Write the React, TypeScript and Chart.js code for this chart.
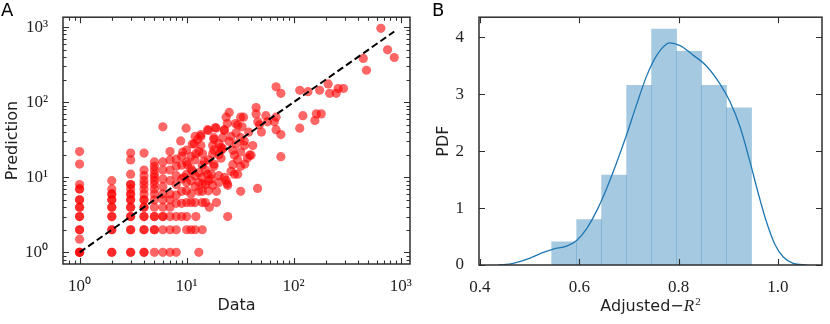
import React, { useEffect, useRef } from 'react';
import { Chart, registerables } from 'chart.js';

Chart.register(...registerables);

// ---------------- Panel A data (Data value -> Prediction) ----------------
// Low-count observations sit on integer Data values
const pred_at_data1 = [1, 1, 1, 1.5, 2, 2, 3, 3, 4, 4, 5, 5, 7, 7, 8, 15, 22];
const pred_at_data2 = [1, 1, 2, 2, 3, 3, 4, 4, 5, 5, 6, 6, 7, 9];
const pred_at_data3 = [1, 1, 2, 2, 3, 3, 4, 4, 5, 5, 6, 6, 7, 8, 8, 11, 17, 21];
const pred_at_data4 = [1, 1, 2, 2, 3, 3, 4, 4, 5, 5, 6, 7, 8, 9, 10.5, 12.5, 21];
const pred_at_data5 = [1, 2, 2, 3, 3, 4, 5, 6, 7, 8, 9, 10, 11, 12.5, 14, 16];
const pred_at_data6 = [1, 2, 3, 3, 4, 5, 6, 7.5, 9.5, 12.5, 16];
const pred_at_data7 = [1, 2, 3, 4, 5, 6, 9, 12.5, 17, 22];
const pred_at_data8 = [1, 2, 3, 4.5, 5.8, 8, 10.5, 14, 17.5];
const pred_at_data9 = [3, 4.5, 6.5, 9.5, 14.5, 19];
const pred_at_data10 = [2, 3, 4.6, 6.6, 8.5, 11, 16, 23];
const pred_at_data11 = [2, 4.6, 6, 9, 13, 19];
const pred_at_data12 = [2, 4.6, 7.5, 10.5, 17];
const pred_at_data13 = [1, 6.5, 8.5, 11.5, 22];
const pred_at_data14 = [2, 4.6, 6.5, 10, 14.5];
const integerColumns: [number, number[]][] = [
  [1, pred_at_data1], [2, pred_at_data2], [3, pred_at_data3], [4, pred_at_data4],
  [5, pred_at_data5], [6, pred_at_data6], [7, pred_at_data7], [8, pred_at_data8],
  [9, pred_at_data9], [10, pred_at_data10], [11, pred_at_data11], [12, pred_at_data12],
  [13, pred_at_data13], [14, pred_at_data14],
];

// Remaining observations (paired by index)
const spread_data = [
  6, 9.9, 8.8, 13.6, 15.7, 18.8, 22.5, 18, 21.7, 11.8, 13.6, 17.5, 21, 23.4, 25, 30, 32, 33, 26, 29,
  32, 34.6, 34.6, 41.5, 44.6, 44.6, 46.3, 55, 57, 68.5, 68.5, 76, 68.5, 76, 114, 122, 114, 76, 136, 163,
  158, 181, 175, 210, 217, 250, 260, 292, 653, 754, 871, 447, 479, 9.2, 12.2, 14.1, 14.6, 17.5, 21, 21,
  27, 32, 38.7, 27, 30, 32, 46, 15.7, 16.9, 23.4, 24.2, 17.5, 14.1, 10.2, 11.3, 9.5, 24.2, 24, 22.5, 28,
  32, 37, 40, 28, 29, 21.7, 18, 16.3, 12.2, 11.3, 12, 18, 15, 20, 19, 16, 26, 35, 30, 20,
  25, 38, 24, 50, 34, 28.6, 22.5, 18.6, 16, 13.6, 12.7, 48, 66, 15, 15, 16, 16, 17, 18, 18,
  20, 19, 20,
];
const spread_pred = [
  47, 45, 30.5, 35, 43, 45, 43, 33.6, 33.6, 27.7, 26.4, 26.4, 25, 63, 73, 49.7, 63, 47, 35, 39,
  33.6, 30.5, 26.4, 26.4, 84.7, 69.8, 54.7, 66, 54.7, 63, 43, 37, 160, 131, 144, 66, 45, 18.8, 138, 69.8,
  57, 69.8, 144, 175, 131, 131, 152, 152, 960, 497, 393, 382, 266, 21.7, 20.6, 20.6, 16.2, 20.6, 17.9, 22.8,
  22.8, 21.7, 19.7, 14.7, 11, 6.5, 7.1, 11, 9.5, 9.1, 7.8, 7.8, 8.2, 14.7, 12.1, 10, 3, 8.2, 10, 11,
  14, 18, 19.7, 19.7, 27.7, 24, 14, 4, 3, 27.7, 35, 32, 12.5, 10.5, 6.5, 17, 12, 15, 17, 28,
  30, 40, 52, 40, 63, 52, 42, 46, 42, 37, 32, 50, 55, 4.6, 8, 6.6, 9, 11, 15, 23,
  8.5, 4.6, 20,
];

// y = x reference line end points
const identity_line = [1, 871];

// ---------------- Panel B data ----------------
const hist_centers = [0.5695, 0.6199, 0.6702, 0.7206, 0.7709, 0.8213, 0.8716, 0.922];
const hist_density = [0.407, 0.798, 1.579, 3.152, 4.14, 3.749, 3.152, 2.76];
const kde_x = [
  0.437, 0.467, 0.5007, 0.5275, 0.5477, 0.5746, 0.5947, 0.615, 0.635, 0.655, 0.675, 0.6955, 0.7156,
  0.7358, 0.756, 0.776, 0.7827, 0.803, 0.83, 0.8566, 0.8834, 0.9035, 0.9237, 0.944, 0.9605, 0.9774,
  0.9942, 1.011, 1.031, 1.058,
];
const kde_y = [
  0, 0.03, 0.12, 0.22, 0.28, 0.33, 0.43, 0.64, 0.95, 1.34, 1.79, 2.29, 2.82, 3.32, 3.68, 3.88, 3.9,
  3.85, 3.68, 3.49, 3.18, 2.87, 2.43, 1.81, 1.26, 0.75, 0.36, 0.14, 0.03, 0,
];
const b_xticks = [0.4, 0.6, 0.8, 1.0];
const b_yticks = [0, 1, 2, 3, 4];

// ---------------- styling ----------------
const FRAME = '#2e2e2e';
const TEXT = '#1f1f1f';
const SERIF = 'Liberation Serif';
const TICK_FONT = { family: SERIF, size: 17 };
const TITLE_FONT = { family: 'DejaVu Sans', size: 16 };
const SUP = ['⁰', '¹', '²', '³', '⁴', '⁵', '⁶', '⁷', '⁸', '⁹'];

type TickDef = { v: number; major: boolean };

function logTicks(min: number, max: number): TickDef[] {
  const out: TickDef[] = [];
  for (let k = Math.floor(Math.log10(min)); k <= Math.ceil(Math.log10(max)); k++) {
    for (let m = 1; m <= 9; m++) {
      const v = m * Math.pow(10, k);
      if (v >= min && v <= max) out.push({ v, major: m === 1 });
    }
  }
  return out;
}

function framePlugin(letter: string, letterX: number, xt: (s: any) => TickDef[], yt: (s: any) => TickDef[], extra?: (chart: any) => void) {
  return {
    id: 'frame' + letter,
    afterDraw(chart: any) {
      const { ctx, chartArea: a } = chart;
      const xs = chart.scales.x;
      const ys = chart.scales.y;
      ctx.save();
      ctx.strokeStyle = FRAME;
      ctx.lineWidth = 1.1;
      ctx.beginPath();
      for (const t of xt(xs)) {
        const p = Math.round(xs.getPixelForValue(t.v)) + 0.5;
        const L = t.major ? 6 : 3.5;
        ctx.moveTo(p, a.bottom); ctx.lineTo(p, a.bottom - L);
        ctx.moveTo(p, a.top); ctx.lineTo(p, a.top + L);
      }
      for (const t of yt(ys)) {
        const p = Math.round(ys.getPixelForValue(t.v)) + 0.5;
        const L = t.major ? 6 : 3.5;
        ctx.moveTo(a.left, p); ctx.lineTo(a.left + L, p);
        ctx.moveTo(a.right, p); ctx.lineTo(a.right - L, p);
      }
      ctx.stroke();
      ctx.lineWidth = 1.5;
      ctx.strokeRect(a.left, a.top, a.right - a.left, a.bottom - a.top);
      ctx.fillStyle = '#000';
      ctx.font = '18px DejaVu Sans';
      ctx.textBaseline = 'top';
      ctx.textAlign = 'left';
      ctx.fillText(letter, letterX, 2);
      if (extra) extra(chart);
      ctx.restore();
    },
  };
}

const logLabel = (v: any) => {
  const l = Math.log10(Number(v));
  return Math.abs(l - Math.round(l)) < 1e-9 ? '10' + SUP[Math.round(l)] : '';
};

function ScatterPanel() {
  const ref = useRef<HTMLCanvasElement>(null);
  useEffect(() => {
    const points: { x: number; y: number }[] = [];
    for (const [d, preds] of integerColumns) for (const p of preds) points.push({ x: d, y: p });
    spread_data.forEach((d, i) => points.push({ x: d, y: spread_pred[i] }));
    const xmin = 0.713, xmax = 1222, ymin = 0.71, ymax = 1352;
    const chart = new Chart(ref.current!, {
      type: 'scatter',
      data: {
        datasets: [
          {
            type: 'line',
            data: identity_line.map((v) => ({ x: v, y: v })),
            borderColor: '#000',
            borderWidth: 2,
            borderDash: [7, 3.5],
            pointRadius: 0,
            fill: false,
            order: 0,
          } as any,
          {
            data: points,
            backgroundColor: 'rgba(255,0,0,0.6)',
            borderWidth: 0,
            pointRadius: 4.6,
            pointHoverRadius: 4.6,
            order: 1,
          },
        ],
      },
      options: {
        animation: false,
        responsive: false,
        layout: { padding: { top: 4, right: 10, left: 0, bottom: 0 } },
        plugins: { legend: { display: false }, tooltip: { enabled: false } },
        scales: {
          x: {
            type: 'logarithmic',
            min: xmin,
            max: xmax,
            grid: { display: false },
            border: { display: false },
            afterFit: (s: any) => { s.height = 60; },
            ticks: { autoSkip: false, maxRotation: 0, padding: 4, color: TEXT, font: TICK_FONT, callback: logLabel },
            title: { display: true, text: 'Data', color: TEXT, font: TITLE_FONT, padding: { top: 0, bottom: 9 } },
          },
          y: {
            type: 'logarithmic',
            min: ymin,
            max: ymax,
            grid: { display: false },
            border: { display: false },
            afterFit: (s: any) => { s.width = 63; },
            ticks: { autoSkip: false, padding: 7, color: TEXT, font: TICK_FONT, callback: logLabel },
            title: { display: true, text: 'Prediction', color: TEXT, font: TITLE_FONT, padding: { top: 3, bottom: 0 } },
          },
        },
      },
      plugins: [framePlugin('A', 1, () => logTicks(xmin, xmax), () => logTicks(ymin, ymax))],
    });
    return () => chart.destroy();
  }, []);
  return <canvas ref={ref} width={420} height={324} style={{ position: 'absolute', left: 0, top: 0, width: 420, height: 324 }} />;
}

function HistPanel() {
  const ref = useRef<HTMLCanvasElement>(null);
  useEffect(() => {
    const drawXTitle = (chart: any) => {
      const { ctx, chartArea: a } = chart;
      const base = 311;
      const p1 = 'Adjusted\u2212';
      const f1 = '16px DejaVu Sans';
      const f2 = 'italic 17px ' + SERIF;
      const f3 = '11px ' + SERIF;
      ctx.font = f1; const w1 = ctx.measureText(p1).width;
      ctx.font = f2; const w2 = ctx.measureText('R').width;
      ctx.font = f3; const w3 = ctx.measureText('2').width;
      const total = w1 + w2 + 1 + w3;
      let x = (a.left + a.right) / 2 - total / 2;
      ctx.fillStyle = TEXT;
      ctx.textBaseline = 'alphabetic';
      ctx.textAlign = 'left';
      ctx.font = f1; ctx.fillText(p1, x, base); x += w1;
      ctx.font = f2; ctx.fillText('R', x, base); x += w2 + 1;
      ctx.font = f3; ctx.fillText('2', x, base - 6);
    };
    const chart = new Chart(ref.current!, {
      type: 'bar',
      data: {
        datasets: [
          {
            type: 'line',
            data: kde_x.map((x, i) => ({ x, y: kde_y[i] })),
            borderColor: '#1f77b4',
            borderWidth: 1.3,
            pointRadius: 0,
            fill: false,
            cubicInterpolationMode: 'monotone',
            order: 0,
          } as any,
          {
            type: 'bar',
            data: hist_centers.map((x, i) => ({ x, y: hist_density[i] })),
            backgroundColor: 'rgba(31,119,180,0.4)',
            borderWidth: 0,
            barPercentage: 1,
            categoryPercentage: 1,
            order: 1,
          } as any,
        ],
      },
      options: {
        animation: false,
        responsive: false,
        layout: { padding: { top: 5, right: 8, left: 0, bottom: 0 } },
        plugins: { legend: { display: false }, tooltip: { enabled: false } },
        scales: {
          x: {
            type: 'linear',
            min: 0.398,
            max: 1.089,
            offset: false,
            grid: { display: false, offset: false },
            border: { display: false },
            afterFit: (s: any) => { s.height = 59; },
            afterBuildTicks: (s: any) => { s.ticks = b_xticks.map((value) => ({ value })); },
            ticks: { maxRotation: 0, autoSkip: false, padding: 4, color: TEXT, font: TICK_FONT, callback: (v: any) => Number(v).toFixed(1) },
          },
          y: {
            type: 'linear',
            min: 0,
            max: 4.35,
            grid: { display: false },
            border: { display: false },
            afterFit: (s: any) => { s.width = 59; },
            afterBuildTicks: (s: any) => { s.ticks = b_yticks.map((value) => ({ value })); },
            ticks: { autoSkip: false, padding: 7, color: TEXT, font: TICK_FONT, callback: (v: any) => String(v) },
            title: { display: true, text: 'PDF', color: TEXT, font: TITLE_FONT, padding: { top: 14, bottom: 0 } },
          },
        },
      },
      plugins: [
        framePlugin(
          'B',
          12,
          () => b_xticks.map((v) => ({ v, major: true })),
          () => b_yticks.map((v) => ({ v, major: true })),
          drawXTitle,
        ),
      ],
    });
    return () => chart.destroy();
  }, []);
  return <canvas ref={ref} width={410} height={324} style={{ position: 'absolute', left: 420, top: 0, width: 410, height: 324 }} />;
}

export default function App() {
  return (
    <div style={{ position: 'fixed', left: 0, top: 0, width: 830, height: 324, background: '#fff' }}>
      <ScatterPanel />
      <HistPanel />
    </div>
  );
}
